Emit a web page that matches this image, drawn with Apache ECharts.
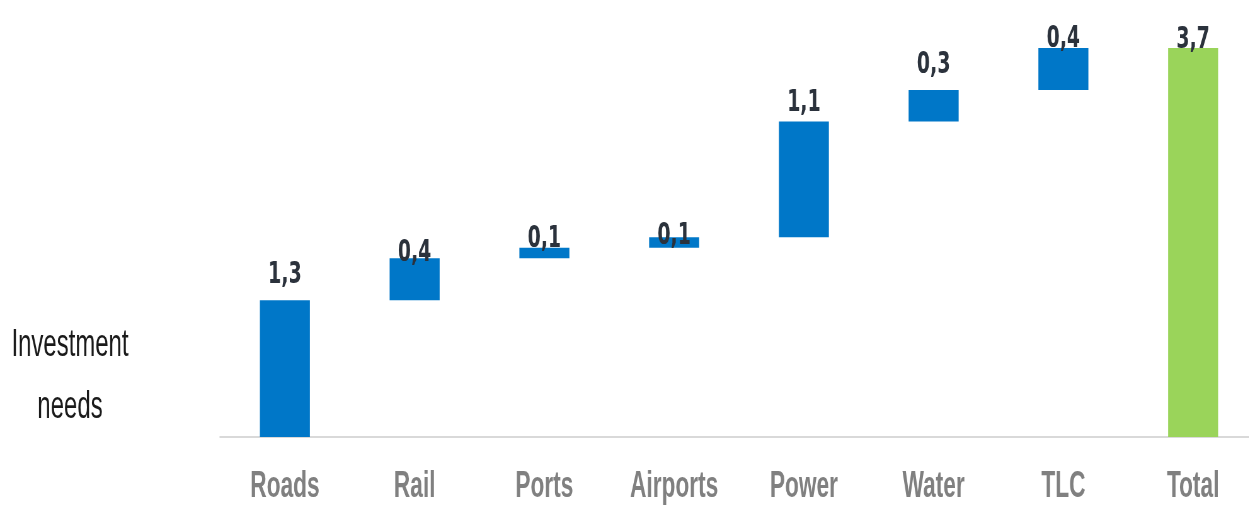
<!DOCTYPE html>
<html>
<head>
<meta charset="utf-8">
<script src="https://cdn.jsdelivr.net/npm/echarts@6/dist/echarts.min.js"></script>
<style>
  html, body { margin: 0; padding: 0; background: #ffffff; overflow: hidden; }
  #wrap { width: 1249px; height: 507px; overflow: hidden; }
  #chart { height: 507px; transform-origin: 0 0; }
</style>
</head>
<body>
<div id="wrap"><div id="chart"></div></div>
<script>
// Investment needs by sector (waterfall)
const categories = ['Roads', 'Rail', 'Ports', 'Airports', 'Power', 'Water', 'TLC', 'Total'];
const increments = [1.3, 0.4, 0.1, 0.1, 1.1, 0.3, 0.4];
const totalValue = 3.7;

// the chart is laid out wide and then condensed horizontally,
// giving the narrow lettering of the original slide
const SX = 0.63;
const X = px => px / SX;

// label offsets above each bar top (px)
const labelGap = [10, -10, -6, -14, 3, 10, -6, -7];

const AXIS_FONT = '"Liberation Sans", Arial, sans-serif';
const VALUE_FONT = '"DejaVu Sans", sans-serif';
const BLUE = '#0077C8';
const GREEN = '#9AD45A';

const el = document.getElementById('chart');
el.style.width = X(1280) + 'px';
el.style.transform = 'scaleX(' + SX + ')';

// invisible base under each step = running sum of preceding increments
const baseValues = [];
let running = 0;
increments.forEach(v => { baseValues.push(running); running += v; });
baseValues.push(0);

const stepValues = increments.concat([totalValue]);
const stepData = stepValues.map((v, i) => ({
  value: v,
  itemStyle: { color: i === stepValues.length - 1 ? GREEN : BLUE },
  label: { distance: labelGap[i] }
}));

const fmt = p => String(p.value).replace('.', ',');

const chart = echarts.init(el, null, { renderer: 'canvas' });
chart.setOption({
  animation: false,
  backgroundColor: '#ffffff',
  grid: { left: X(220), top: 48, width: X(1038), height: 389, containLabel: false },
  xAxis: {
    type: 'category',
    data: categories,
    axisLine: { show: true, lineStyle: { color: '#d9d9d9', width: 2 } },
    axisTick: { show: false },
    axisLabel: {
      interval: 0,
      color: '#808080', fontFamily: AXIS_FONT, fontWeight: 'bold', fontSize: 36,
      margin: 32
    }
  },
  yAxis: {
    type: 'value', min: 0, max: 3.7,
    show: false, splitLine: { show: false }
  },
  series: [
    {
      type: 'bar', stack: 'w', data: baseValues, barWidth: X(50),
      itemStyle: { color: 'transparent' }, silent: true
    },
    {
      type: 'bar', stack: 'w', data: stepData, barWidth: X(50),
      label: {
        show: true, position: 'top', formatter: fmt,
        color: '#2b323c', fontFamily: VALUE_FONT, fontWeight: 'bold', fontSize: 30
      }
    }
  ],
  graphic: [
    {
      type: 'text', x: X(70), y: 346,
      style: {
        text: 'Investment', fill: '#1a1a1a', font: '38px ' + AXIS_FONT,
        textAlign: 'center', textVerticalAlign: 'middle'
      }
    },
    {
      type: 'text', x: X(70), y: 408,
      style: {
        text: 'needs', fill: '#1a1a1a', font: '38px ' + AXIS_FONT,
        textAlign: 'center', textVerticalAlign: 'middle'
      }
    }
  ]
});
</script>
</body>
</html>
